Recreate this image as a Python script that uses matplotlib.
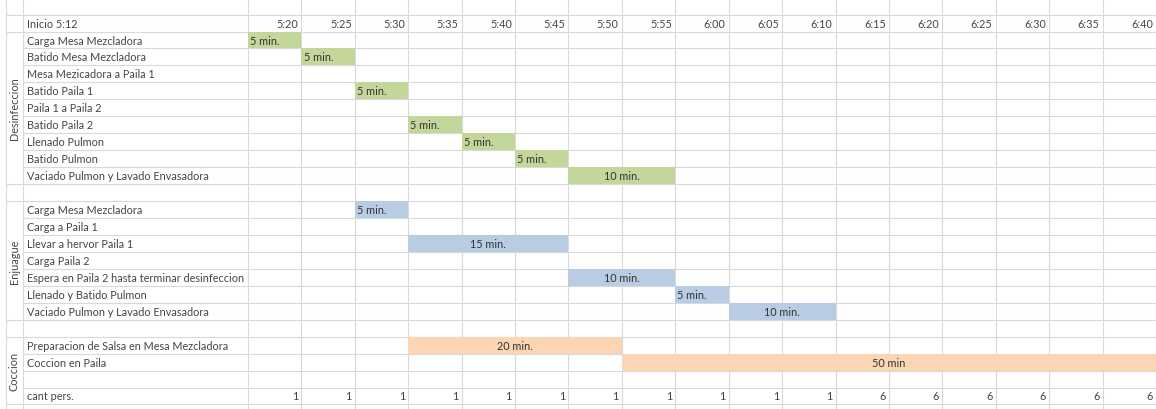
import matplotlib
matplotlib.use('Agg')
import matplotlib.pyplot as plt

# header times (each column = 5 minutes, label marks end of the slot)
time_labels = ['5:20', '5:25', '5:30', '5:35', '5:40', '5:45', '5:50', '5:55', '6:00',
               '6:05', '6:10', '6:15', '6:20', '6:25', '6:30', '6:35', '6:40']
start_label = 'Inicio 5:12'

# task rows (row 1 .. 22), '' = empty row
task_labels = ['Carga Mesa Mezcladora', 'Batido Mesa Mezcladora', 'Mesa Mezicadora a Paila 1',
               'Batido Paila 1', 'Paila 1 a Paila 2', 'Batido Paila 2', 'Llenado Pulmon',
               'Batido Pulmon', 'Vaciado Pulmon y Lavado Envasadora', '',
               'Carga Mesa Mezcladora', 'Carga a Paila 1', 'Llevar a hervor Paila 1', 'Carga Paila 2',
               'Espera en Paila 2 hasta terminar desinfeccion', 'Llenado y Batido Pulmon',
               'Vaciado Pulmon y Lavado Envasadora', '',
               'Preparacion de Salsa en Mesa Mezcladora', 'Coccion en Paila', '', 'cant pers.']

# groups and the rows they cover
groups = ['Desinfeccion', 'Enjuague', 'Coccion']
group_first = [1, 11, 19]
group_last = [9, 17, 22]
group_colors = ['#c4d79b', '#b8cce4', '#fcd5b4']

# bars: row, start (min after 5:15), duration (min), text, group
bar_rows = [1, 2, 4, 6, 7, 8, 9, 11, 13, 15, 16, 17, 19, 20]
bar_start = [0, 5, 10, 15, 20, 25, 30, 10, 15, 30, 40, 45, 15, 35]
bar_len = [5, 5, 5, 5, 5, 5, 10, 5, 15, 10, 5, 10, 20, 50]
bar_text = ['5 min.', '5 min.', '5 min.', '5 min.', '5 min.', '5 min.', '10 min.',
            '5 min.', '15 min.', '10 min.', '5 min.', '10 min.', '20 min.', '50 min']
bar_group = [0, 0, 0, 0, 0, 0, 0, 1, 1, 1, 1, 1, 2, 2]

# people per slot
cant_pers = [1, 1, 1, 1, 1, 1, 1, 1, 1, 1, 1, 6, 6, 6, 6, 6, 6]

txt = '#454545'
grid = '#d9d9d9'
fs = 7.8
font = 'Lato'

slot = 5
n_cols = len(time_labels)
x_end = n_cols * slot
x_left = -23.22
x_task = -21.07
x_group = -22.66

fig = plt.figure(figsize=(11.56, 4.10), dpi=100)
ax = fig.add_axes([0, 0, 1, 1])
ax.set_xlim(x_left, x_end)
ax.set_ylim(22.767, -1.4186)
ax.axis('off')

# grid
for i in range(n_cols + 1):
    ax.axvline(i * slot, color=grid, lw=0.8, zorder=1)
ax.axvline(x_task, color=grid, lw=0.8, zorder=1)
ax.axvline(x_group, color=grid, lw=0.8, zorder=1)
for k in range(-1, 23):
    ax.hlines(k + 0.5, x_task, x_end, color=grid, lw=0.8, zorder=1)
for b in [-0.5, 0.5, 9.5, 10.5, 17.5, 18.5, 22.5]:
    ax.hlines(b, x_group, x_task, color=grid, lw=0.8, zorder=1)

# header
ax.text(x_task + 0.35, 0, start_label, ha='left', va='center', fontsize=fs,
        color=txt, family=font)
for i, t in enumerate(time_labels):
    ax.text((i + 1) * slot - 0.3, 0, t, ha='right', va='center', fontsize=fs,
            color=txt, family=font)

# task labels
for k, lab in enumerate(task_labels, start=1):
    ax.text(x_task + 0.35, k, lab, ha='left', va='center', fontsize=fs,
            color=txt, family=font)

# group labels
for g, a, b in zip(groups, group_first, group_last):
    ax.text((x_group + x_task) / 2, (a + b) / 2, g, rotation=90, ha='center',
            va='center', fontsize=fs, color=txt, family=font)

# bars
for r, s, d, t, g in zip(bar_rows, bar_start, bar_len, bar_text, bar_group):
    ax.barh(r, d, left=s, height=1.0, color=group_colors[g], zorder=2)
    if d == slot:
        ax.text(s + 0.2, r, t, ha='left', va='center', fontsize=fs,
                color='#333333', family=font, zorder=3)
    else:
        ax.text(s + d / 2, r, t, ha='center', va='center', fontsize=fs,
                color='#333333', family=font, zorder=3)

# cant pers row
for i, v in enumerate(cant_pers):
    ax.text((i + 1) * slot - 0.3, 22, str(v), ha='right', va='center', fontsize=fs,
            color=txt, family=font)

fig.savefig('out.png', dpi=100)
